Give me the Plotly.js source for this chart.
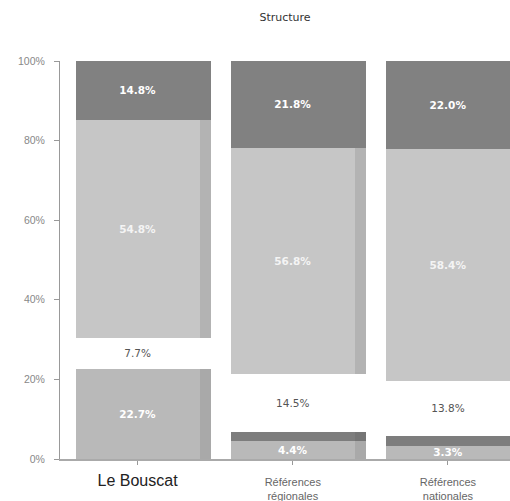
<!DOCTYPE html>
<html>
<head>
<meta charset="utf-8">
<script src="https://cdn.plot.ly/plotly-3.0.1.min.js"></script>
<style>
  html, body { margin: 0; padding: 0; background: #ffffff; }
  #chart { width: 510px; height: 501px; }
</style>
</head>
<body>
<div id="chart"></div>
<script>
// Categories and tick labels
var categories = ['Le Bouscat', 'Références régionales', 'Références nationales'];
var tickLabels = [
  '<span style="font-size:16px;color:#222">Le Bouscat</span>',
  'Références<br>régionales',
  'Références<br>nationales'
];

// Stacked shares (%), bottom to top
var partBase    = [22.7, 4.4, 3.3];
var partBand    = [0, 2.5, 2.5];
var partBlanche = [7.7, 14.5, 13.8];
var partMilieu  = [54.8, 56.8, 58.4];
var partHaut    = [14.8, 21.8, 22.0];

var series = [
  { y: partBase,    face: '#b9b9b9', side: '#a9a9a9', text: true,  tcolor: '#ffffff', bold: true },
  { y: partBand,    face: '#7d7d7d', side: '#757575', text: false },
  { y: partBlanche, face: '#ffffff', side: '#ffffff', text: true,  tcolor: '#555555', bold: false },
  { y: partMilieu,  face: '#c6c6c6', side: '#b3b3b3', text: true,  tcolor: '#f4f4f4', bold: true },
  { y: partHaut,    face: '#818181', side: '#818181', text: true,  tcolor: '#ffffff', bold: true }
];

var xIdx = categories.map(function (c, i) { return i; });
var traces = [];

// Front faces of the bars
series.forEach(function (s) {
  traces.push({
    type: 'bar',
    x: xIdx,
    y: s.y,
    width: 0.8,
    offset: -0.4,
    marker: { color: s.face, line: { width: 0 } },
    text: s.text ? s.y.map(function (v) { return v > 0 ? v.toFixed(1) + '%' : ''; }) : null,
    texttemplate: s.text ? (s.bold ? '<b>%{text}</b>' : '%{text}') : undefined,
    textposition: s.text ? 'inside' : 'none',
    insidetextanchor: 'middle',
    textangle: 0,
    constraintext: 'none',
    textfont: { family: 'DejaVu Sans, Verdana, sans-serif', size: 10.5, color: s.tcolor || '#ffffff' },
    hoverinfo: 'none',
    showlegend: false
  });
});

// Shaded side strips of the bars
series.forEach(function (s) {
  traces.push({
    type: 'bar',
    x: xIdx,
    y: s.y,
    xaxis: 'x2',
    width: 0.07,
    offset: 0.4,
    marker: { color: s.side, line: { width: 0 } },
    textposition: 'none',
    hoverinfo: 'none',
    showlegend: false
  });
});

var layout = {
  width: 510,
  height: 501,
  margin: { l: 60, r: 0, t: 61, b: 42 },
  paper_bgcolor: '#ffffff',
  plot_bgcolor: '#ffffff',
  barmode: 'stack',
  title: {
    text: 'Structure',
    x: 0.5,
    xref: 'paper',
    y: 0.973,
    yref: 'container',
    font: { family: 'DejaVu Sans, Verdana, sans-serif', size: 11, color: '#333333' }
  },
  xaxis: {
    range: [-0.5, 2.4],
    tickmode: 'array',
    tickvals: xIdx,
    ticktext: tickLabels,
    ticks: 'outside',
    ticklen: 4,
    tickcolor: '#999999',
    ticklabelstandoff: 8,
    showline: true,
    linecolor: '#aaaaaa',
    linewidth: 1.5,
    showgrid: false,
    zeroline: false,
    tickfont: { family: 'Liberation Sans, Arial, sans-serif', size: 11, color: '#666666' }
  },
  xaxis2: {
    range: [-0.5, 2.4],
    overlaying: 'x',
    visible: false
  },
  yaxis: {
    range: [0, 100],
    tickmode: 'array',
    tickvals: [0, 20, 40, 60, 80, 100],
    ticktext: ['0%', '20%', '40%', '60%', '80%', '100%'],
    ticks: 'outside',
    ticklen: 5,
    tickcolor: '#999999',
    ticklabelstandoff: 7,
    showline: true,
    linecolor: '#999999',
    linewidth: 1,
    showgrid: false,
    zeroline: false,
    tickfont: { family: 'Liberation Sans, Arial, sans-serif', size: 10.5, color: '#888888' }
  },
  bargap: 0
};

Plotly.newPlot('chart', traces, layout, { displayModeBar: false, staticPlot: true });
</script>
</body>
</html>
